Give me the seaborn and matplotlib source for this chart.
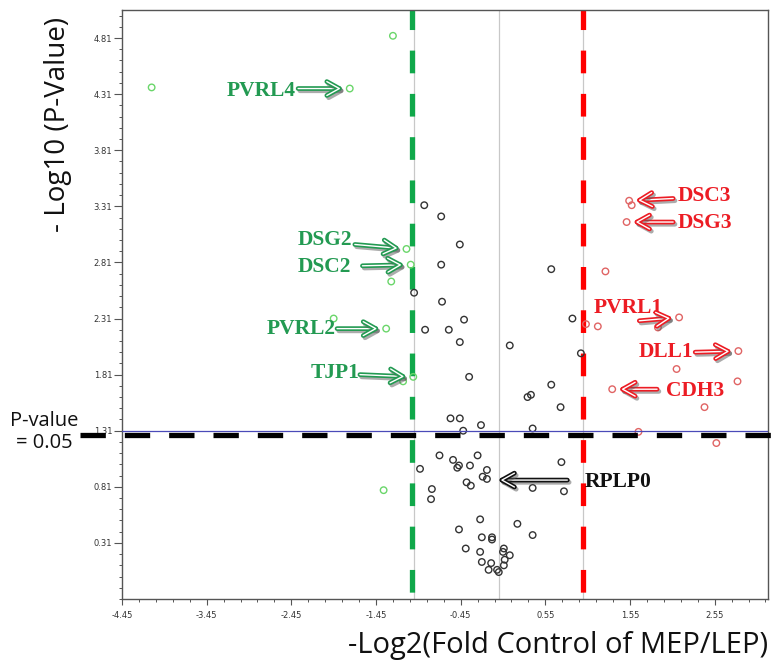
import numpy as np
import pandas as pd
import matplotlib
matplotlib.use("Agg")
import matplotlib.pyplot as plt
import matplotlib.patheffects as pe
import matplotlib.transforms as mtransforms
from matplotlib.ticker import FixedLocator
import seaborn as sns

# ---------------- data ----------------
green_x = [-4.10, -1.25, -1.76, -1.09, -1.04, -1.27, -1.95, -1.33, -1.13, -1.01, -1.36]
green_y = [4.37, 4.83, 4.36, 2.93, 2.79, 2.64, 2.31, 2.22, 1.75, 1.79, 0.78]

red_x = [1.54, 1.57, 1.51, 1.26, 1.03, 1.17, 2.13, 1.88, 2.83, 2.10, 2.82, 1.34, 2.43, 1.65, 2.57]
red_y = [3.36, 3.32, 3.17, 2.73, 2.26, 2.24, 2.32, 2.23, 2.02, 1.86, 1.75, 1.68, 1.52, 1.30, 1.20]

black_x = [-0.88, -0.68, -0.46, -0.68, 0.62, -1.00, -0.67, -0.41, 0.87, -0.87, -0.59, -0.46,
           0.13, 0.97, -0.35, 0.62, 0.34, 0.38, 0.73, -0.57, -0.46, -0.21, -0.42, 0.40,
           -0.93, -0.70, -0.54, -0.49, -0.47, -0.34, -0.25, -0.14, -0.19, -0.14, -0.38, -0.33,
           0.74, -0.79, -0.80, 0.40, 0.77, -0.22, 0.22, -0.47, 0.40, -0.20, -0.08, -0.08,
           -0.39, -0.22, 0.06, 0.05, 0.13, 0.07, -0.20, -0.09, 0.06, -0.12, -0.02, 0.00]
black_y = [3.32, 3.22, 2.97, 2.79, 2.75, 2.54, 2.46, 2.30, 2.31, 2.21, 2.21, 2.10,
           2.07, 2.00, 1.79, 1.72, 1.61, 1.63, 1.52, 1.42, 1.42, 1.36, 1.31, 1.33,
           0.97, 1.09, 1.05, 0.98, 1.00, 1.00, 1.09, 0.96, 0.90, 0.88, 0.85, 0.82,
           1.03, 0.79, 0.70, 0.80, 0.77, 0.52, 0.48, 0.43, 0.38, 0.36, 0.36, 0.34,
           0.26, 0.23, 0.26, 0.23, 0.20, 0.16, 0.14, 0.13, 0.11, 0.07, 0.07, 0.05]

x_ticks = [-4.45, -3.45, -2.45, -1.45, -0.45, 0.55, 1.55, 2.55]
y_ticks = [0.31, 0.81, 1.31, 1.81, 2.31, 2.81, 3.31, 3.81, 4.31, 4.81]

fold_lines = [-1.0, 0.0, 1.0]
down_cut = -1.02
up_cut = 1.0
p_line = 1.31
p_dash = 1.27

green_genes = ["PVRL4", "DSG2", "DSC2", "PVRL2", "TJP1"]
green_gene_idx = [2, 3, 4, 7, 9]
red_genes = ["DSC3", "DSG3", "PVRL1", "DLL1", "CDH3"]
red_gene_idx = [0, 2, 6, 8, 11]
ref_gene = "RPLP0"

# ---------------- layout of labels (text anchor, arrow tail) ----------------
green_text_pos = {"PVRL4": (-2.40, 4.34), "DSG2": (-1.73, 3.01), "DSC2": (-1.74, 2.77),
                  "PVRL2": (-1.93, 2.22), "TJP1": (-1.65, 1.82)}
green_tail = {"PVRL4": (-2.37, 4.36), "DSG2": (-1.70, 2.97), "DSC2": (-1.61, 2.78),
              "PVRL2": (-1.91, 2.22), "TJP1": (-1.64, 1.81)}
red_text_pos = {"DSC3": (2.11, 3.40), "DSG3": (2.11, 3.16), "PVRL1": (1.12, 2.40),
                "DLL1": (1.65, 2.01), "CDH3": (1.98, 1.66)}
red_tail = {"DSC3": (2.06, 3.38), "DSG3": (2.06, 3.17), "PVRL1": (1.66, 2.29),
            "DLL1": (2.32, 2.01), "CDH3": (1.87, 1.68)}
ref_text_pos = (1.01, 0.85)
ref_tail = (0.81, 0.87)
ref_tip = (-0.02, 0.87)

# ---------------- styling ----------------
sns.set_style("white")
plt.rcParams["font.family"] = ["DejaVu Sans"]

GREEN_TXT = "#239a52"
GREEN_LINE = "#10a84a"
GREEN_PT = "#6ad66a"
RED_TXT = "#ec1c24"
RED_LINE = "#ff0000"
RED_PT = "#e06464"
BLACK_PT = "#333333"

fig = plt.figure(figsize=(7.71, 6.66), dpi=100)
ax = fig.add_axes([122 / 771, 1 - 599 / 666, (768 - 122) / 771, (599 - 10) / 666])

xlim = (-4.45, 3.18)
ylim = (-0.19, 5.06)

# gray reference lines
for fx in fold_lines:
    ax.axvline(fx, color="#c8c8c8", lw=0.9, zorder=0)

df = pd.concat([
    pd.DataFrame({"x": black_x, "y": black_y, "group": "ns"}),
    pd.DataFrame({"x": green_x, "y": green_y, "group": "down"}),
    pd.DataFrame({"x": red_x, "y": red_y, "group": "up"}),
], ignore_index=True)

for grp, col in [("ns", BLACK_PT), ("down", GREEN_PT), ("up", RED_PT)]:
    sub = df[df["group"] == grp]
    sns.scatterplot(data=sub, x="x", y="y", ax=ax, s=22, facecolors="none",
                    edgecolor=col, linewidth=1.0, zorder=3, legend=False)

# cut-off lines
ax.plot([down_cut, down_cut], [ylim[1], ylim[0]], color=GREEN_LINE, lw=3.8,
        linestyle=(0.6, (4.3, 3.9)), zorder=2, dash_capstyle="butt")
ax.plot([up_cut, up_cut], [ylim[1], ylim[0]], color=RED_LINE, lw=3.8,
        linestyle=(0.6, (4.3, 3.9)), zorder=2, dash_capstyle="butt")
ax.axhline(p_line, color="#4a4ab8", lw=0.9, zorder=4)
trans = mtransforms.blended_transform_factory(ax.transAxes, ax.transData)
ax.plot([(80 - 122) / 646, 1.01], [p_dash, p_dash], transform=trans, color="black",
        lw=3.8, linestyle=(0, (4.8, 3.6)), clip_on=False, zorder=5, dash_capstyle="butt")

ax.set_xlim(*xlim)
ax.set_ylim(*ylim)
ax.set_xticks(x_ticks)
ax.set_yticks(y_ticks)
ax.set_xticklabels([f"{v:.2f}" for v in x_ticks])
ax.set_yticklabels([f"{v:.2f}" for v in y_ticks])
ax.xaxis.set_minor_locator(FixedLocator(np.arange(-4.45, 3.2, 0.2)))
ax.yaxis.set_minor_locator(FixedLocator(np.arange(-0.19, 5.07, 0.1)))
ax.tick_params(axis="both", which="major", labelsize=6, labelcolor="#333333",
               color="#555555", direction="out", width=0.8)
ax.tick_params(axis="y", which="major", length=5.5, pad=1.5, left=True)
ax.tick_params(axis="x", which="major", length=4, pad=5, bottom=True)
ax.tick_params(axis="both", which="minor", length=2.5, color="#555555", width=0.7,
               left=True, bottom=True)
for sp in ax.spines.values():
    sp.set_color("#555555")
    sp.set_linewidth(1.0)
ax.set_xlabel("")
ax.set_ylabel("")

# labels
arrow_style = "->,head_length=0.9,head_width=0.5"


def draw_arrow(tip, tail, color, shrinkB):
    ax.annotate("", xy=tip, xytext=tail, zorder=6,
                arrowprops=dict(arrowstyle=arrow_style, color=color, lw=3.4,
                                shrinkA=0, shrinkB=shrinkB,
                                path_effects=[pe.SimpleLineShadow(offset=(1.3, -1.6),
                                                                  shadow_color="0.35", alpha=0.5),
                                              pe.Normal(),
                                              pe.Stroke(linewidth=1.0, foreground="white")]))


lab_font = dict(family="Liberation Serif", fontweight="bold", fontsize=15.5)
for g, i in zip(green_genes, green_gene_idx):
    tx, ty = green_text_pos[g]
    ax.text(tx, ty, g, color=GREEN_TXT, ha="right", va="center", zorder=6, **lab_font)
    draw_arrow((green_x[i], green_y[i]), green_tail[g], GREEN_TXT, 4)
for g, i in zip(red_genes, red_gene_idx):
    tx, ty = red_text_pos[g]
    ax.text(tx, ty, g, color=RED_TXT, ha="left", va="center", zorder=6, **lab_font)
    draw_arrow((red_x[i], red_y[i]), red_tail[g], RED_TXT, 4)
ax.text(ref_text_pos[0], ref_text_pos[1], ref_gene, color="#111111", ha="left",
        va="center", zorder=6, **lab_font)
draw_arrow(ref_tip, ref_tail, "#111111", 0)

# axis titles
fig.text(58 / 771, 1 - 124 / 666, "- Log10 (P-Value)", rotation=90, ha="center",
         va="center", fontsize=20, family="Open Sans", color="#111111")
fig.text(768 / 771, 1 - 646 / 666, "-Log2(Fold Control of MEP/LEP)", ha="right",
         va="center", fontsize=21, family="Open Sans", color="#111111")
fig.text(44 / 771, 1 - 432 / 666, "P-value\n= 0.05", ha="center", va="center",
         fontsize=14.5, family="Open Sans", color="#111111", linespacing=1.1)

fig.savefig("out.png", dpi=100)
